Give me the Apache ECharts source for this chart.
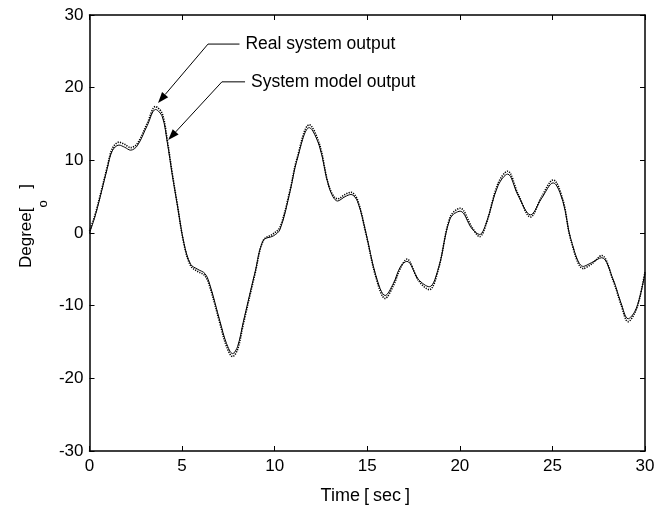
<!DOCTYPE html>
<html><head><meta charset="utf-8">
<script src="https://cdn.jsdelivr.net/npm/echarts@6/dist/echarts.min.js"></script>
<style>html,body{margin:0;padding:0;background:#fff}#c{width:658px;height:518px}</style>
</head><body><div id="c"></div>
<script>
const timeSec = [0.0,0.3,0.6,0.96,1.23,1.59,1.9,2.22,2.58,3.12,3.57,3.93,4.2,4.47,4.74,5.1,5.46,5.85,6.24,6.51,7.05,7.4,7.73,8.0,8.31,8.94,9.39,9.93,10.29,10.83,11.2,11.87,12.41,12.95,13.4,13.8,14.12,14.48,14.93,15.47,15.97,16.4,16.8,17.14,17.77,18.35,18.85,19.48,20.02,20.65,21.07,21.43,22.06,22.58,23.14,23.82,24.4,25.04,25.57,26.0,26.67,27.1,27.66,28.28,28.7,29.09,29.45,29.72,30.0];
const realDeg = [0.3,2.5,5.4,9.1,11.6,12.5,12.2,11.75,12.3,15.1,17.4,16.4,12.8,8.2,4.0,-1.5,-4.5,-5.3,-5.9,-7.5,-12.5,-15.6,-17.0,-16.0,-12.5,-5.6,-1.0,-0.1,0.8,5.9,10.2,14.9,12.3,6.3,4.7,5.3,5.6,4.5,-0.1,-6.1,-9.0,-7.3,-4.8,-3.6,-6.55,-7.8,-4.9,2.2,3.4,0.8,-0.5,1.3,6.8,8.5,5.4,2.2,4.9,7.3,4.5,-1.0,-4.9,-4.3,-3.1,-6.55,-9.8,-12.2,-11.0,-8.85,-5.4];
const modelDeg = [0.0,2.3,5.2,8.9,11.3,12.1,11.8,11.4,12.0,14.8,17.0,16.0,12.5,8.0,3.9,-1.4,-4.3,-5.0,-5.6,-7.2,-12.2,-15.2,-16.6,-15.6,-12.2,-5.4,-1.0,-0.4,0.5,5.7,10.0,14.5,12.0,6.2,4.4,5.0,5.3,4.3,0.0,-5.9,-8.6,-7.0,-4.6,-3.9,-6.4,-7.4,-4.8,2.0,3.0,0.6,-0.2,1.4,6.5,8.1,5.2,2.5,4.7,6.9,4.3,-0.9,-4.6,-4.1,-3.4,-6.4,-9.6,-11.8,-10.8,-8.8,-5.5];
const xTicks = [0,5,10,15,20,25,30];
const yTicks = [-30,-20,-10,0,10,20,30];
const realName = 'Real system output';
const modelName = 'System model output';

const chart = echarts.init(document.getElementById('c'));
const FONT = '"Liberation Sans", Arial, sans-serif';
const axisCommon = {
  axisLine: {show: true, onZero: false, lineStyle: {color: '#000', width: 1.5}},
  axisTick: {show: true, inside: true, length: 5, lineStyle: {color: '#000', width: 1}},
  splitLine: {show: false}
};
const realData = timeSec.map((t, i) => [t, realDeg[i]]);
const modelData = timeSec.map((t, i) => [t, modelDeg[i]]);

chart.setOption({
  animation: false,
  backgroundColor: '#fff',
  grid: {left: 89.5, right: 13, top: 15, bottom: 67},
  xAxis: [
    Object.assign({type: 'value', min: xTicks[0], max: xTicks[xTicks.length-1], interval: 5, position: 'bottom',
      axisLabel: {color: '#000', fontSize: 17, fontFamily: FONT, margin: 7},
      name: '{t|Time}{b|[}{t|sec}{b|]}', nameLocation: 'middle', nameGap: 36,
      nameTextStyle: {color: '#000', fontSize: 18, fontFamily: FONT,
        rich: {t: {fontSize: 18, fontFamily: FONT, color: '#000'},
               b: {fontSize: 18, fontFamily: FONT, color: '#000', padding: [0, 4, 0, 4]}}}}, axisCommon),
    Object.assign({type: 'value', min: 0, max: 30, interval: 5, position: 'top', axisLabel: {show: false}}, axisCommon)
  ],
  yAxis: [
    Object.assign({type: 'value', min: yTicks[0], max: yTicks[yTicks.length-1], interval: 10, position: 'left',
      axisLabel: {color: '#000', fontSize: 17, fontFamily: FONT, margin: 6}}, axisCommon),
    Object.assign({type: 'value', min: -30, max: 30, interval: 10, position: 'right', axisLabel: {show: false}}, axisCommon)
  ],
  series: [
    {name: modelName, type: 'line', data: modelData, smooth: 0.35, showSymbol: false,
      lineStyle: {color: '#000', width: 1}},
    {name: realName, type: 'line', data: realData, smooth: 0.35, showSymbol: false,
      lineStyle: {color: '#000', width: 1.6, type: [1.2, 1.2]}}
  ]
});

// annotations (anchored in data coordinates)
function px(p){ return chart.convertToPixel({xAxisIndex: 0, yAxisIndex: 0}, p); }
function arrow(tip, elbow, end, text){
  const T = px(tip), E = px(elbow), N = px(end);
  const dx = T[0]-E[0], dy = T[1]-E[1], L = Math.hypot(dx, dy);
  const ux = dx/L, uy = dy/L, hl = 11, hw = 4;
  const bx = T[0]-ux*hl, by = T[1]-uy*hl;
  return [
    {type: 'polyline', shape: {points: [N, E, [bx, by]]}, style: {stroke: '#000', lineWidth: 1, fill: null}, z: 10},
    {type: 'polygon', shape: {points: [T, [bx - uy*hw, by + ux*hw], [bx + uy*hw, by - ux*hw]]}, style: {fill: '#000'}, z: 10},
    {type: 'text', x: N[0] + 6, y: N[1], style: {text: text, fill: '#000', font: '17.5px ' + FONT, textVerticalAlign: 'middle', verticalAlign: 'middle'}, z: 10}
  ];
}
const g = [].concat(
  arrow([3.7, 17.9], [6.4, 26.0], [8.1, 26.0], realName),
  arrow([4.25, 12.8], [7.15, 20.8], [8.4, 20.8], modelName),
  [
    {type: 'text', x: 26, y: 226, rotation: Math.PI/2,
      style: {text: 'Degree[    ]', fill: '#000', font: '17px ' + FONT, align: 'center', verticalAlign: 'middle', textAlign: 'center', textVerticalAlign: 'middle'}},
    {type: 'text', x: 43, y: 204, rotation: Math.PI/2,
      style: {text: 'o', fill: '#000', font: '13px ' + FONT, align: 'center', verticalAlign: 'middle', textAlign: 'center', textVerticalAlign: 'middle'}}
  ]
);
chart.setOption({graphic: g});
</script>
</body></html>
